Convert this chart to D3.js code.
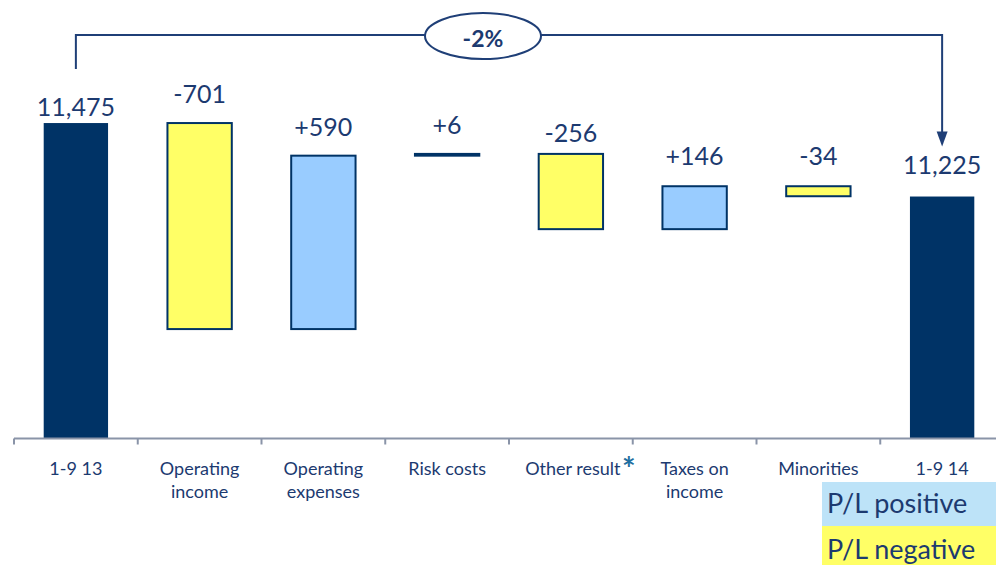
<!DOCTYPE html>
<html>
<head>
<meta charset="utf-8">
<script src="https://cdn.jsdelivr.net/npm/d3@7"></script>
<style>
  html, body { margin: 0; padding: 0; background: #ffffff; }
  svg { display: block; }
  text { font-family: Lato, "Open Sans", sans-serif; fill: #1c3a70; }
</style>
</head>
<body>
<svg id="chart" width="996" height="565"></svg>
<script>
// Net profit bridge, 1-9 13 to 1-9 14 (EUR m)
const categories = [
  ["1-9 13"],
  ["Operating", "income"],
  ["Operating", "expenses"],
  ["Risk costs"],
  ["Other result"],
  ["Taxes on", "income"],
  ["Minorities"],
  ["1-9 14"]
];
const startValue = 11475;
const endValue = 11225;
const changes = [-701, 590, 6, -256, 146, -34];
const footnoteIndex = 4;          // "Other result" carries a footnote marker
const legendLabels = ["P/L positive", "P/L negative"];

// Layout constants
const labelGap = [7, 20, 20, 20, 12, 21, 21, 23];
const navy = "#003366";
const posFill = "#99ccff";
const negFill = "#ffff66";

const svg = d3.select("#chart");

// Build waterfall segments from the data
const segments = [];
let running = startValue;
segments.push({ i: 0, lo: startValue, hi: startValue, kind: "total", label: d3.format(",")(startValue) });
changes.forEach((c, k) => {
  const from = running, to = running + c;
  segments.push({
    i: k + 1,
    lo: Math.min(from, to),
    hi: Math.max(from, to),
    kind: c >= 0 ? "pos" : "neg",
    label: (c >= 0 ? "+" : "-") + Math.abs(c)
  });
  running = to;
});
segments.push({ i: 7, lo: endValue, hi: endValue, kind: "total", label: d3.format(",")(endValue) });

const x = d3.scaleBand()
  .domain(d3.range(categories.length))
  .range([14, 1004])
  .paddingInner(0.48)
  .paddingOuter(0.24);

const y = d3.scaleLinear()
  .domain([10400, 11500])
  .range([439, 115.7]);

const base = y.domain()[0];

// Bars
svg.append("g").selectAll("rect")
  .data(segments)
  .join("rect")
  .attr("x", d => x(d.i))
  .attr("width", x.bandwidth())
  .attr("y", d => y(d.hi))
  .attr("height", d => d.kind === "total" ? y(base) - y(d.hi) : Math.max(0.5, y(d.lo) - y(d.hi)))
  .attr("fill", d => d.kind === "total" ? navy : d.kind === "pos" ? posFill : negFill)
  .attr("stroke", d => d.kind === "total" ? "none" : navy)
  .attr("stroke-width", 2);

// Value labels
svg.append("g").selectAll("text")
  .data(segments)
  .join("text")
  .attr("x", d => x(d.i) + x.bandwidth() / 2)
  .attr("y", d => y(d.hi) - labelGap[d.i])
  .attr("text-anchor", "middle")
  .attr("font-size", 25)
  .text(d => d.label);

// Category axis: baseline with ticks on band boundaries
const axisY = 438.5;
const axis = svg.append("g");
axis.append("line")
  .attr("x1", 14).attr("x2", 996)
  .attr("y1", axisY).attr("y2", axisY)
  .attr("stroke", "#8a94a8").attr("stroke-width", 2);
axis.selectAll("line.tick")
  .data(d3.range(categories.length))
  .join("line")
  .attr("class", "tick")
  .attr("x1", i => x.range()[0] + i * x.step())
  .attr("x2", i => x.range()[0] + i * x.step())
  .attr("y1", axisY).attr("y2", axisY + 6)
  .attr("stroke", "#8a94a8").attr("stroke-width", 2);

const catText = axis.selectAll("text.cat")
  .data(categories)
  .join("text")
  .attr("class", "cat")
  .attr("text-anchor", "middle")
  .attr("font-size", 18)
  .attr("x", (d, i) => x(i) + x.bandwidth() / 2 + (i === footnoteIndex ? 2 : 0))
  .attr("y", 475);
catText.selectAll("tspan")
  .data(d => d)
  .join("tspan")
  .attr("x", function () { return d3.select(this.parentNode).attr("x"); })
  .attr("dy", (d, j) => j === 0 ? 0 : 23)
  .text(d => d);

// Footnote marker after "Other result"
const otherNode = catText.filter((d, i) => i === footnoteIndex).node();
const otherBox = otherNode.getBBox();
svg.append("text")
  .attr("x", otherBox.x + otherBox.width + 1)
  .attr("y", 481)
  .attr("font-size", 32)
  .style("fill", "#1f6fa0")
  .style("font-weight", "bold")
  .text("*");

// Overall change bracket with arrow
const x0 = x(0) + x.bandwidth() / 2;
const x1 = x(categories.length - 1) + x.bandwidth() / 2;
const bracketY = 35;
const ell = { cx: 483, cy: 36, rx: 58, ry: 23 };
const bracket = svg.append("g")
  .attr("stroke", "#1f3f77").attr("stroke-width", 2).attr("fill", "none");
bracket.append("path")
  .attr("d", `M${x0},69 V${bracketY} H${ell.cx - ell.rx}`);
bracket.append("path")
  .attr("d", `M${ell.cx + ell.rx},${bracketY} H${x1} V${y(endValue) - 62}`);
bracket.append("ellipse")
  .attr("cx", ell.cx).attr("cy", ell.cy).attr("rx", ell.rx).attr("ry", ell.ry);
svg.append("path")
  .attr("d", `M${x1 - 5.5},${y(endValue) - 65} L${x1 + 5.5},${y(endValue) - 65} L${x1},${y(endValue) - 50} Z`)
  .attr("fill", "#1f3f77");

const pct = Math.round((endValue - startValue) / startValue * 100);
svg.append("text")
  .attr("x", ell.cx).attr("y", 47)
  .attr("text-anchor", "middle")
  .attr("font-size", 23)
  .attr("font-weight", "bold")
  .text((pct < 0 ? "-" : "+") + Math.abs(pct) + "%");

// Legend
const legend = svg.append("g");
const legendRows = [
  { label: legendLabels[0], fill: "#bde3f8", y: 482, h: 44, base: 513 },
  { label: legendLabels[1], fill: negFill, y: 526, h: 40, base: 559 }
];
legend.selectAll("rect")
  .data(legendRows)
  .join("rect")
  .attr("x", 822).attr("width", 174)
  .attr("y", d => d.y).attr("height", d => d.h)
  .attr("fill", d => d.fill);
legend.selectAll("text")
  .data(legendRows)
  .join("text")
  .attr("x", 827).attr("y", d => d.base)
  .attr("font-size", 27)
  .text(d => d.label);
</script>
</body>
</html>
